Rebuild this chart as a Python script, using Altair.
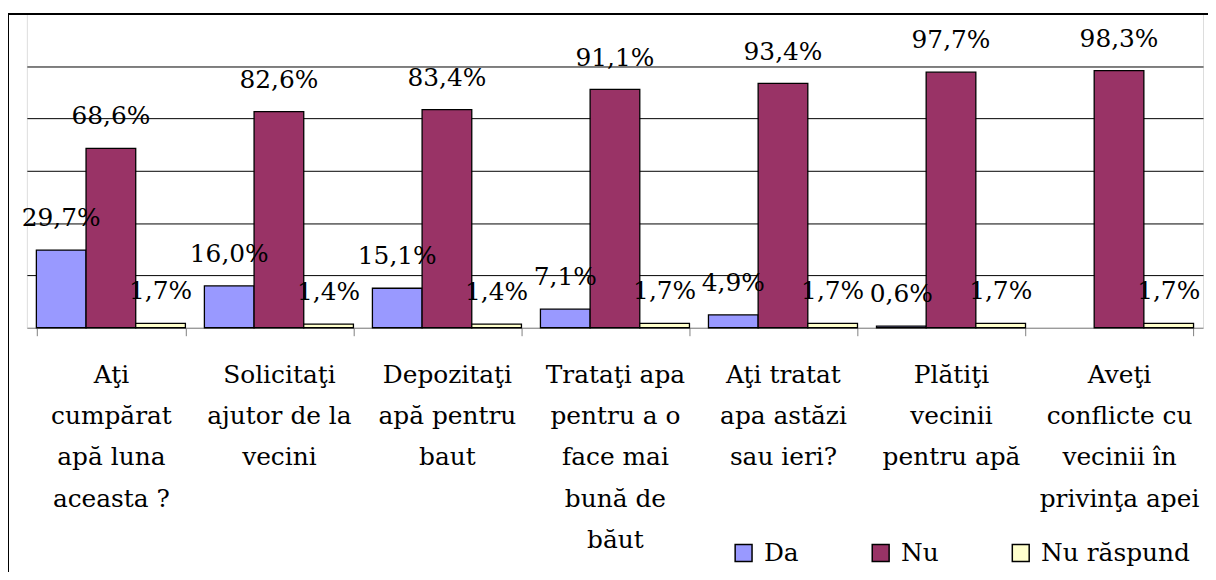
import altair as alt
import pandas as pd

categories = [
    "Aţi\ncumpărat\napă luna\naceasta ?",
    "Solicitaţi\najutor de la\nvecini",
    "Depozitaţi\napă pentru\nbaut",
    "Trataţi apa\npentru a o\nface mai\nbună de\nbăut",
    "Aţi tratat\napa astăzi\nsau ieri?",
    "Plătiţi\nvecinii\npentru apă",
    "Aveţi\nconflicte cu\nvecinii în\nprivinţa apei",
]
series = ["Da", "Nu", "Nu răspund"]
da = [29.7, 16.0, 15.1, 7.1, 4.9, 0.6, None]
nu = [68.6, 82.6, 83.4, 91.1, 93.4, 97.7, 98.3]
nr = [1.7, 1.4, 1.4, 1.7, 1.7, 1.7, 1.7]
colors = ["#9999FF", "#993366", "#FFFFCC"]

rows = []
for s, vals in zip(series, [da, nu, nr]):
    for c, v in zip(categories, vals):
        if v is None:
            continue
        rows.append({"cat": c, "series": s, "value": v,
                     "label": f"{v:.1f}%".replace(".", ",")})
df = pd.DataFrame(rows)

FONT = "DejaVu Serif"
FS = 25
W, H = 1184, 316

x = alt.X("cat:N", sort=categories, title=None,
          scale=alt.Scale(paddingInner=0.113, paddingOuter=0.0565),
          axis=alt.Axis(labelAngle=0, labelExpr="split(datum.label, '\\n')",
                        labelFont=FONT, labelFontSize=FS, labelColor="black",
                        labelLineHeight=41.5, labelLimit=0, labelPadding=47,
                        labelBaseline="alphabetic",
                        domainColor="#808080", tickColor="#808080",
                        tickSize=8, tickBand="extent", grid=False))
xo = alt.XOffset("series:N", sort=series, scale=alt.Scale(paddingInner=0, paddingOuter=0))
y = alt.Y("value:Q", title=None,
          scale=alt.Scale(domain=[0, 120], nice=False),
          axis=alt.Axis(values=[20, 40, 60, 80, 100], labels=False, ticks=False,
                        domain=False, grid=True, gridColor="black", gridOpacity=1,
                        gridWidth=1))

bars = alt.Chart(df).mark_bar(stroke="black", strokeWidth=1.3).encode(
    x=x, xOffset=xo, y=y,
    color=alt.Color("series:N", sort=series, title=None,
                    scale=alt.Scale(domain=series, range=colors),
                    legend=alt.Legend(orient="none", direction="horizontal",
                                      legendX=709, legendY=530,
                                      symbolType="square", symbolSize=289,
                                      symbolStrokeColor="black", symbolStrokeWidth=1.5,
                                      labelFont=FONT, labelFontSize=FS, labelColor="black",
                                      labelOffset=8, columnPadding=70, labelLimit=0)),
)

labels = alt.Chart(df).mark_text(font=FONT, fontSize=FS, color="black",
                                 baseline="alphabetic", dy=-24).encode(
    x=alt.X("cat:N", sort=categories), xOffset=alt.XOffset("series:N", sort=series),
    y=alt.Y("value:Q"), text="label:N")

frame_left = alt.Chart(df).mark_rule(color="black", strokeWidth=1.5).encode(
    x=alt.value(-19), y=alt.value(0), y2=alt.value(600))
frame_top = alt.Chart(df).mark_rule(color="black", strokeWidth=1.5).encode(
    x=alt.value(-19), x2=alt.value(1300), y=alt.value(0))

chart = alt.layer(bars, labels, frame_left, frame_top).properties(
    width=W, height=H,
    autosize=alt.AutoSizeParams(type="none"),
    padding={"left": 19, "top": 4, "right": 5, "bottom": 244},
).configure_view(stroke=None).configure(background="white")

chart.save("out.html", embed_options={"renderer": "svg", "actions": False})
